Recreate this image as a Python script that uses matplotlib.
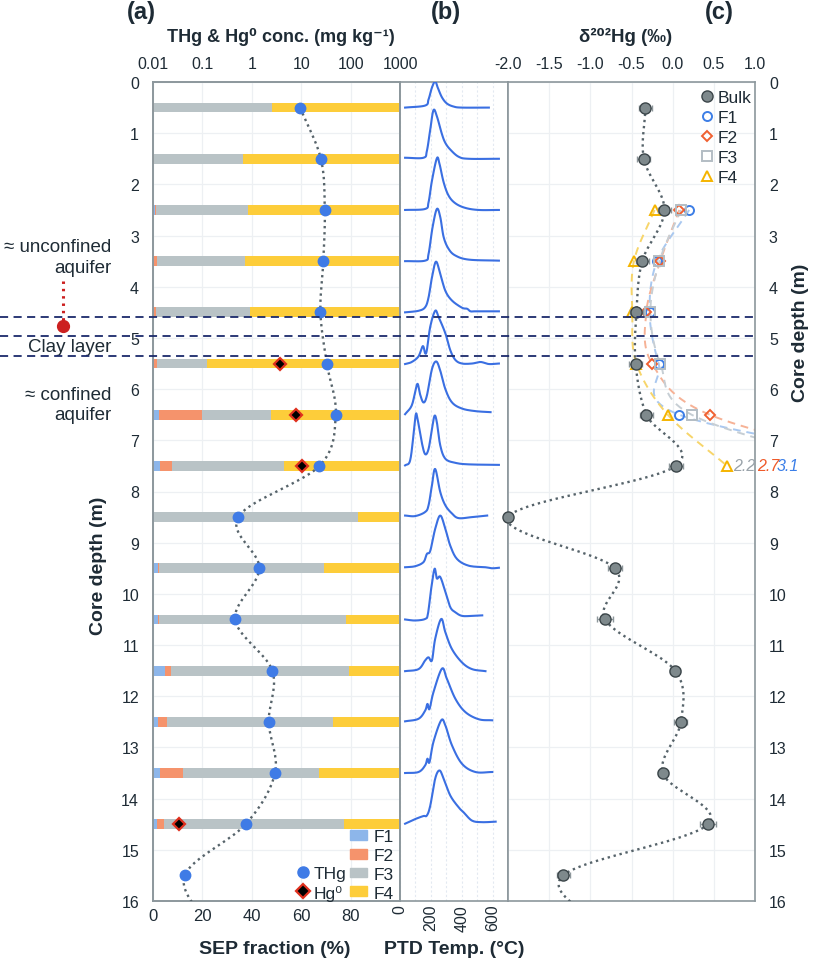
import numpy as np
import matplotlib
matplotlib.use('Agg')
import matplotlib.pyplot as plt
from matplotlib.lines import Line2D
from matplotlib.patches import Patch
from matplotlib.ticker import NullLocator
import matplotlib.transforms as mtransforms

plt.rcParams['font.family'] = ['Liberation Sans', 'DejaVu Sans']

# ---------------- data ----------------
depth_bars = [0.5, 1.5, 2.5, 3.5, 4.5, 5.5, 6.5, 7.5, 8.5, 9.5, 10.5, 11.5, 12.5, 13.5, 14.5]
sep_F1 = [0.0, 0.0, 0.7, 0.5, 0.3, 0.3, 2.4, 2.8, 0.6, 2.2, 2.2, 4.9, 1.9, 2.8, 1.8]
sep_F2 = [0.4, 0.4, 0.5, 1.0, 1.0, 1.2, 17.6, 4.8, 0.0, 0.3, 0.3, 2.4, 3.9, 9.2, 2.7]
sep_F3 = [47.9, 36.2, 37.1, 35.7, 38.0, 20.5, 27.6, 45.4, 82.3, 66.7, 75.6, 72.2, 67.1, 55.2, 72.8]
sep_F4 = [51.7, 63.4, 61.7, 62.8, 60.7, 78.0, 52.4, 47.0, 17.1, 30.8, 21.9, 20.5, 27.1, 32.8, 22.7]

depth_thg = [0.5, 1.5, 2.5, 3.5, 4.5, 5.5, 6.5, 7.5, 8.5, 9.5, 10.5, 11.5, 12.5, 13.5, 14.5, 15.5, 16.5]
thg = [9.5, 25, 30, 28, 24.5, 33, 50, 23.4, 0.53, 1.42, 0.46, 2.6, 2.2, 2.95, 0.75, 0.044, 0.13]

depth_hg0 = [5.5, 6.5, 7.5, 14.5]
hg0 = [3.7, 7.7, 10.2, 0.033]

depth_bulk = [0.5, 1.5, 2.5, 3.5, 4.5, 5.5, 6.5, 7.5, 8.5, 9.5, 10.5, 11.5, 12.5, 13.5, 14.5, 15.5, 16.5]
d202_bulk = [-0.33, -0.35, -0.10, -0.37, -0.44, -0.45, -0.32, 0.04, -2.0, -0.70, -0.82, 0.03, 0.10, -0.12, 0.43, -1.33, -0.9]
d202_bulk_err = [0.08, 0.08, 0.08, 0.08, 0.08, 0.08, 0.08, 0.08, 0.0, 0.08, 0.1, 0.06, 0.08, 0.06, 0.1, 0.08, 0.0]

depth_frac = [2.5, 3.5, 4.5, 5.5, 6.5, 7.5]
d202_F1 = [0.20, -0.19, -0.28, -0.17, 0.08, 3.1]
d202_F2 = [0.08, -0.15, -0.32, -0.25, 0.45, 2.7]
d202_F3 = [0.10, -0.16, -0.27, -0.15, 0.23, 2.2]
d202_F4 = [-0.22, -0.47, -0.49, -0.44, -0.06, 0.66]

# PTD thermograms: temperature (deg C) and relative signal (in depth units above baseline)
ptd_depth = depth_bars
ptd_temp = [
    [33, 163, 185, 207, 228, 246, 272, 304, 348, 402, 576],
    [33, 152, 174, 196, 217, 239, 272, 294, 326, 380, 446, 641],
    [33, 163, 185, 207, 239, 256, 283, 315, 359, 424, 511, 641],
    [33, 163, 185, 211, 239, 261, 283, 315, 359, 446, 641],
    [33, 120, 163, 185, 207, 233, 261, 294, 337, 402, 435, 457, 489, 641],
    [33, 76, 120, 148, 163, 174, 196, 228, 250, 294, 326, 359, 402, 467, 522, 576, 641],
    [33, 76, 102, 115, 130, 152, 174, 207, 235, 261, 294, 337, 402, 489, 587],
    [33, 65, 87, 102, 113, 141, 163, 185, 207, 224, 239, 261, 294, 359, 446, 641],
    [33, 98, 163, 185, 207, 228, 261, 294, 337, 380, 467, 565],
    [33, 98, 152, 174, 196, 228, 261, 294, 326, 370, 446, 554, 598, 641],
    [33, 98, 163, 181, 202, 224, 239, 261, 294, 326, 359, 402, 467, 533],
    [33, 120, 163, 185, 207, 228, 267, 294, 337, 402, 467, 554],
    [33, 120, 163, 178, 191, 217, 272, 304, 359, 424, 511, 598],
    [33, 120, 163, 178, 191, 217, 267, 294, 337, 402, 489, 598],
    [33, 98, 152, 174, 196, 228, 256, 283, 326, 380, 413, 467, 533, 620],
]
ptd_signal = [
    [0, 0.04, 0.16, 0.39, 0.51, 0.38, 0.20, 0.08, 0.02, 0, 0],
    [0.02, 0.02, 0.15, 0.57, 0.95, 0.83, 0.48, 0.31, 0.18, 0.04, 0, 0],
    [0, 0.02, 0.15, 0.57, 1.01, 0.90, 0.54, 0.28, 0.13, 0.04, 0, 0],
    [0, 0.01, 0.14, 0.66, 1.02, 0.86, 0.47, 0.24, 0.11, 0.03, 0.01],
    [0, 0.03, 0.10, 0.29, 0.68, 0.99, 0.75, 0.42, 0.23, 0.09, 0.07, 0.02, 0.02, 0.02],
    [-0.01, 0.03, 0.14, 0.34, 0.20, 0.26, 0.72, 1.03, 0.91, 0.59, 0.26, 0.07, 0, 0, 0.03, -0.01, 0],
    [0.01, 0.18, 0.50, 0.60, 0.40, 0.24, 0.37, 0.89, 1.04, 0.86, 0.50, 0.24, 0.12, 0.07, 0.05],
    [0.01, 0.10, 0.59, 1.00, 0.93, 0.46, 0.23, 0.33, 0.72, 0.98, 0.85, 0.40, 0.14, 0.06, 0.03, 0.02],
    [0.03, 0.02, 0.10, 0.23, 0.62, 0.94, 0.49, 0.23, 0.07, -0.02, 0, 0.03],
    [0.02, 0.04, 0.12, 0.28, 0.34, 0.77, 1.03, 0.77, 0.44, 0.18, 0.05, 0.02, 0, 0.01],
    [0, -0.02, 0.01, 0.11, 0.60, 0.99, 0.80, 0.83, 0.54, 0.24, 0.14, 0.07, 0.07, 0.08],
    [-0.01, 0.03, 0.20, 0.26, 0.20, 0.62, 1.01, 0.75, 0.42, 0.16, 0.03, -0.01],
    [0.01, 0.06, 0.22, 0.35, 0.25, 0.58, 1.04, 0.84, 0.45, 0.19, 0.05, 0.03],
    [0, 0.02, 0.15, 0.28, 0.21, 0.61, 1.03, 0.93, 0.54, 0.18, 0.02, 0.02],
    [0.01, 0.10, 0.16, 0.17, 0.36, 0.89, 1.05, 0.89, 0.56, 0.33, 0.23, 0.07, 0.04, 0.05],
]

layer_bounds = [4.59, 4.96, 5.35]
depth_ticks = list(range(0, 17))
conc_ticks = [0.01, 0.1, 1, 10, 100, 1000]
conc_labels = ['0.01', '0.1', '1', '10', '100', '1000']
sep_ticks = [0, 20, 40, 60, 80]
ptd_ticks = [0, 200, 400, 600]
d202_ticks = [-2.0, -1.5, -1.0, -0.5, 0.0, 0.5, 1.0]

# ---------------- style ----------------
TXT = '#1e2b35'
SPINE = '#8c979c'
GRID = '#edf0f3'
C_F1, C_F2, C_F3, C_F4 = '#8db6ea', '#f5936c', '#b9c3c6', '#fdcd3a'
C_THG = '#3f7be6'
C_PTD = '#3a6fe2'
NAVY = '#1b2a6b'
TICK_FS = 11.5
LEG_FS = 12.5
LAB_FS = 14


def smooth(t, v, n=20):
    """Catmull-Rom smoothing of a polyline (display only)."""
    P = np.column_stack([np.asarray(t, float), np.asarray(v, float)])
    N = len(P)
    out = []
    for i in range(N - 1):
        p0 = P[i - 1] if i > 0 else 2 * P[0] - P[1]
        p1, p2 = P[i], P[i + 1]
        p3 = P[i + 2] if i + 2 < N else 2 * P[-1] - P[-2]
        s = np.linspace(0, 1, n, endpoint=(i == N - 2))[:, None]
        seg = 0.5 * (2 * p1 + (-p0 + p2) * s + (2 * p0 - 5 * p1 + 4 * p2 - p3) * s ** 2
                     + (-p0 + 3 * p1 - 3 * p2 + p3) * s ** 3)
        out.append(seg)
    S = np.vstack(out)
    return S[:, 0], S[:, 1]


W, H = 813, 962
fig = plt.figure(figsize=(W / 100, H / 100), dpi=100)


def rect(x0, y0, x1, y1):
    return [x0 / W, 1 - y1 / H, (x1 - x0) / W, (y1 - y0) / H]


ax_a = fig.add_axes(rect(153, 83, 400, 902))
ax_b = fig.add_axes(rect(400, 83, 508, 902))
ax_c = fig.add_axes(rect(508, 83, 755, 902))

for ax in (ax_a, ax_b, ax_c):
    ax.set_ylim(16, 0)
    for sp in ax.spines.values():
        sp.set_color(SPINE)
        sp.set_linewidth(1.2)
    ax.tick_params(length=0, colors=TXT)
    ax.set_axisbelow(True)

# ---------------- panel (a) ----------------
ax_a.set_xlim(0, 100)
bh = 0.19
left = np.zeros(len(depth_bars))
for vals, col in ((sep_F1, C_F1), (sep_F2, C_F2), (sep_F3, C_F3), (sep_F4, C_F4)):
    ax_a.barh(depth_bars, vals, left=left, height=bh, color=col, edgecolor='none', zorder=2)
    left = left + np.asarray(vals)
ax_a.set_xticks(sep_ticks)
ax_a.set_yticks(depth_ticks)
ax_a.tick_params(axis='x', labelsize=12, pad=5)
ax_a.tick_params(axis='y', labelsize=TICK_FS, pad=10)
ax_a.grid(True, color=GRID, lw=0.9)

ax_t = ax_a.twiny()
ax_t.set_xscale('log')
ax_t.set_xlim(0.01, 1000)
ax_t.set_xticks(conc_ticks)
ax_t.set_xticklabels(conc_labels)
ax_t.xaxis.set_minor_locator(NullLocator())
ax_t.tick_params(length=0, colors=TXT, labelsize=TICK_FS, pad=8)
for sp in ax_t.spines.values():
    sp.set_color(SPINE)
    sp.set_linewidth(1.2)

lt, lv = smooth(depth_thg, np.log10(thg))
ax_t.plot(10 ** lv, lt, color='#56636a', lw=1.7, ls=(0, (1, 1.6)), zorder=3)
ax_t.plot(thg, depth_thg, 'o', color=C_THG, ms=7.5, mec=C_THG, zorder=4)
ax_t.plot(hg0, depth_hg0, 'D', color='black', ms=6.5, mec='#e0301e', mew=1.6, zorder=5)

leg_f = ax_t.legend(handles=[Patch(color=C_F1, label='F1'), Patch(color=C_F2, label='F2'),
                             Patch(color=C_F3, label='F3'), Patch(color=C_F4, label='F4')],
                    loc='lower right', bbox_to_anchor=(1.01, -0.01), frameon=False, fontsize=LEG_FS,
                    handlelength=1.0, handleheight=0.5, handletextpad=0.35, labelspacing=0.22,
                    borderaxespad=0.1)
for t in leg_f.get_texts():
    t.set_color(TXT)
ax_t.add_artist(leg_f)
leg_h = ax_t.legend(handles=[Line2D([], [], marker='o', ls='none', color=C_THG, ms=8, label='THg'),
                             Line2D([], [], marker='D', ls='none', color='black', mec='#e0301e',
                                    mew=1.6, ms=7, label='Hg⁰')],
                    loc='lower right', bbox_to_anchor=(0.82, -0.01), frameon=False, fontsize=LEG_FS,
                    handlelength=0.7, handletextpad=0.3, labelspacing=0.22, borderaxespad=0.1)
for t in leg_h.get_texts():
    t.set_color(TXT)

# ---------------- panel (b) ----------------
ax_b.set_xlim(0, 700)
ax_b.set_xticks(ptd_ticks)
ax_b.set_xticks(range(0, 701, 100), minor=True)
ax_b.tick_params(axis='x', which='both', length=0, labelsize=TICK_FS, pad=2, labelrotation=90)
ax_b.set_yticks([])
ax_b.grid(True, axis='x', which='both', color='#e3e9f1', lw=0.8, ls=(0, (2, 2)))
for d, T, h in zip(ptd_depth, ptd_temp, ptd_signal):
    st, sh = smooth(T, h, n=10)
    ax_b.plot(st, d - sh, color=C_PTD, lw=1.5, zorder=3)

# ---------------- panel (c) ----------------
ax_c.set_xlim(-2, 1)
ax_c.set_xticks(d202_ticks)
ax_c.set_xticklabels([f'{v:.1f}' for v in d202_ticks])
ax_c.xaxis.tick_top()
ax_c.yaxis.tick_right()
ax_c.set_yticks(depth_ticks)
ax_c.tick_params(axis='x', labelsize=TICK_FS, pad=8)
ax_c.tick_params(axis='y', labelsize=TICK_FS, pad=10)
ax_c.grid(True, color=GRID, lw=0.9)

frac_styles = [
    (d202_F1, '#a9c8f0', 'o', '#3d7ee6', 6.5, 'F1'),
    (d202_F2, '#f6b296', 'D', '#f06030', 5.5, 'F2'),
    (d202_F3, '#c6ced4', 's', '#b3bdc4', 6.5, 'F3'),
    (d202_F4, '#f7d56a', '^', '#f5b400', 7, 'F4'),
]
for vals, lc, mk, mc, ms, lab in frac_styles:
    sd, sv = smooth(depth_frac, vals)
    ax_c.plot(sv, sd, color=lc, lw=1.4, ls=(0, (4, 3)), zorder=2)
for vals, lc, mk, mc, ms, lab in frac_styles:
    ax_c.plot(vals, depth_frac, mk, mfc='none', mec=mc, mew=1.4, ms=ms, ls='none', zorder=4)

bd, bv = smooth(depth_bulk, d202_bulk)
ax_c.plot(bv, bd, color='#56636a', lw=1.7, ls=(0, (1, 1.6)), zorder=3)
vis = np.asarray(depth_bulk) <= 16
ax_c.errorbar(np.asarray(d202_bulk)[vis], np.asarray(depth_bulk)[vis],
              xerr=np.asarray(d202_bulk_err)[vis], fmt='o', ms=8, mfc='#7e898c',
              mec='#3b4549', mew=1.0, ecolor='#8c969a', elinewidth=1, capsize=2,
              zorder=5, clip_on=False)

# off-scale fraction values at the bottom of the fraction profiles
offscale = [(d202_F3[-1], '#9aa3aa', 0.73), (d202_F2[-1], '#ef5a2a', 1.02), (d202_F1[-1], '#3a7ee8', 1.265)]
for v, col, xpos in offscale:
    ax_c.text(xpos, depth_frac[-1], f'{v:.1f}', color=col, fontsize=11.5, style='italic',
              ha='left', va='center', clip_on=False, zorder=6)

leg_c = ax_c.legend(handles=[
    Line2D([], [], marker='o', ls='none', mfc='#7e898c', mec='#3b4549', ms=8, label='Bulk')] +
    [Line2D([], [], marker=mk, ls='none', mfc='none', mec=mc, mew=1.4, ms=ms, label=lab)
     for vals, lc, mk, mc, ms, lab in frac_styles],
    loc='upper right', bbox_to_anchor=(1.036, 1.005), frameon=False, fontsize=LEG_FS,
    handlelength=0.7, handletextpad=0.3, labelspacing=0.28, borderaxespad=0.3)
for t in leg_c.get_texts():
    t.set_color(TXT)

# ---------------- layer boundaries & annotations ----------------
blend = mtransforms.blended_transform_factory(fig.transFigure, ax_a.transData)
for yb in layer_bounds:
    fig.add_artist(Line2D([0, 755 / W], [yb, yb], transform=blend, color=NAVY, lw=1.3,
                          ls=(0, (4.5, 3)), zorder=10))
fig.add_artist(Line2D([63 / W, 63 / W], [3.89, 4.74], transform=blend, color='#cc2020', lw=2.2,
                      ls=(0, (0.8, 1.6)), zorder=10))
fig.add_artist(Line2D([63 / W], [4.77], transform=blend, marker='o', color='#cc2020', ms=8.5,
                      ls='none', zorder=11))

ANN_FS = 13.5
fig.text(111 / W, 3.42, '≈ unconfined\naquifer', transform=blend, ha='right', va='center',
         fontsize=ANN_FS, color=TXT, linespacing=1.25)
fig.text(111 / W, 5.17, 'Clay layer', transform=blend, ha='right', va='center', fontsize=ANN_FS, color=TXT)
fig.text(111 / W, 6.3, '≈ confined\naquifer', transform=blend, ha='right', va='center',
         fontsize=ANN_FS, color=TXT, linespacing=1.25)

# ---------------- titles ----------------
for xp, s in ((141, '(a)'), (446, '(b)'), (719, '(c)')):
    fig.text(xp / W, 1 - 12 / H, s, ha='center', va='center', fontsize=17, fontweight='bold', color=TXT)
fig.text(281 / W, 1 - 37 / H, 'THg & Hg⁰ conc. (mg kg⁻¹)', ha='center', va='center', fontsize=13,
         fontweight='bold', color=TXT)
fig.text(626 / W, 1 - 37 / H, 'δ²⁰²Hg (‰)', ha='center', va='center', fontsize=13.5,
         fontweight='bold', color=TXT)
fig.text(275 / W, 1 - 950 / H, 'SEP fraction (%)', ha='center', va='center', fontsize=LAB_FS,
         fontweight='bold', color=TXT)
fig.text(454 / W, 1 - 950 / H, 'PTD Temp. (°C)', ha='center', va='center', fontsize=LAB_FS,
         fontweight='bold', color=TXT)
fig.text(98 / W, 1 - 566 / H, 'Core depth (m)', ha='center', va='center', rotation=90, fontsize=LAB_FS,
         fontweight='bold', color=TXT)
fig.text(800 / W, 1 - 333 / H, 'Core depth (m)', ha='center', va='center', rotation=90, fontsize=LAB_FS,
         fontweight='bold', color=TXT)

fig.savefig('out.png', dpi=100)
